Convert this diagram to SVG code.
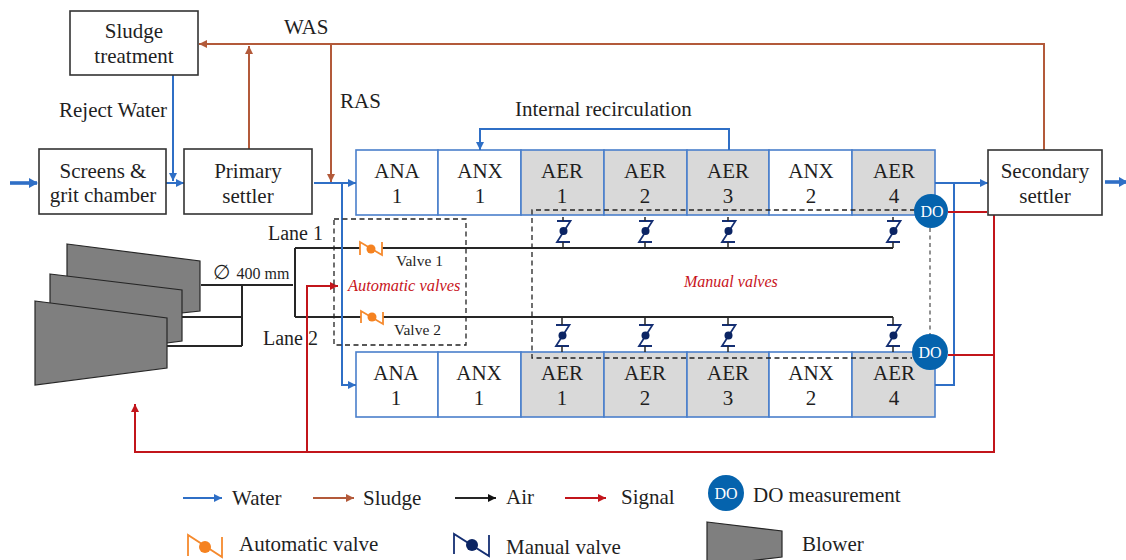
<svg xmlns="http://www.w3.org/2000/svg" width="1126" height="560" viewBox="0 0 1126 560">
<defs>
<style>
text{font-family:"Liberation Serif","Times New Roman",serif;fill:#1f1f1f;font-size:21px}
.c{text-anchor:middle}
.box{fill:#fff;stroke:#333;stroke-width:1.6}
.tw{fill:#fff;stroke:#4a7fcb;stroke-width:1.6}
.tg{fill:#d9d9d9;stroke:#4a7fcb;stroke-width:1.6}
.w,.s,.a,.r,.wt{fill:none}
.w{stroke:#2f6fc6;stroke-width:2}
.wt{stroke:#2f6fc6;stroke-width:3.6}
.s{stroke:#b35a3a;stroke-width:2}
.a{stroke:#262626;stroke-width:2}
.r{stroke:#c2151b;stroke-width:2}
.d{fill:none;stroke:#222;stroke-width:1.3;stroke-dasharray:5 3.5}
.bl{fill:#7f7f7f;stroke:#262626;stroke-width:1.2}
.do{fill:#0563ad}
.dot{fill:#fff;font-size:16px;text-anchor:middle}
.av{fill:none;stroke:#f58a2e;stroke-width:1.8}
.mv{fill:none;stroke:#152f73;stroke-width:1.8}
.ac{fill:#f58220}
.mc{fill:#0b2463}
.it{font-style:italic;fill:#c8141c;font-size:16.400px}
</style>
<marker id="mw" markerWidth="9" markerHeight="8" refX="8" refY="4" orient="auto" markerUnits="userSpaceOnUse"><path d="M0 0L8 4L0 8z" fill="#2f6fc6"/></marker>
<marker id="mwt" markerWidth="10" markerHeight="11" refX="8" refY="5" orient="auto" markerUnits="userSpaceOnUse"><path d="M0 0L9 5L0 10z" fill="#2f6fc6"/></marker>
<marker id="ms" markerWidth="9" markerHeight="8" refX="8" refY="4" orient="auto" markerUnits="userSpaceOnUse"><path d="M0 0L8 4L0 8z" fill="#b35a3a"/></marker>
<marker id="ma" markerWidth="9" markerHeight="8" refX="8" refY="4" orient="auto" markerUnits="userSpaceOnUse"><path d="M0 0L8 4L0 8z" fill="#111"/></marker>
<marker id="mr" markerWidth="9" markerHeight="8" refX="8" refY="4" orient="auto" markerUnits="userSpaceOnUse"><path d="M0 0L8 4L0 8z" fill="#c2151b"/></marker>
<g id="mvt"><path class="mv" d="M-6 4H7.500L-6 25H7"/><circle class="mc" cx="0.500" cy="14" r="4"/><path class="a" style="stroke-width:1.5" d="M0 0V4M0 25V31"/></g>
<g id="mvb"><path class="mv" d="M-6 8H7.500L-6 29H7"/><circle class="mc" cx="0.500" cy="18.500" r="4"/><path class="a" style="stroke-width:1.5" d="M0 0V8M0 29V35"/></g>
</defs>

<g id="blowers">
<polygon class="bl" points="67,244 200,261 200,311 67,325"/>
<polygon class="bl" points="50,274 182,290 182,341 50,358"/>
<polygon class="bl" points="35,301 167,318 167,368 35,385"/>
</g>

<g id="tanks-top">
<rect class="tw" x="356" y="150" width="82" height="65"/><rect class="tw" x="438" y="150" width="83" height="65"/>
<rect class="tg" x="521" y="150" width="83" height="65"/><rect class="tg" x="604" y="150" width="83" height="65"/><rect class="tg" x="687" y="150" width="82" height="65"/>
<rect class="tw" x="769" y="150" width="83" height="65"/><rect class="tg" x="852" y="150" width="83" height="65"/>
<text class="c" x="397" y="178">ANA</text><text class="c" x="397" y="203">1</text>
<text class="c" x="480" y="178">ANX</text><text class="c" x="480" y="203">1</text>
<text class="c" x="562" y="178">AER</text><text class="c" x="562" y="203">1</text>
<text class="c" x="645" y="178">AER</text><text class="c" x="645" y="203">2</text>
<text class="c" x="728" y="178">AER</text><text class="c" x="728" y="203">3</text>
<text class="c" x="811" y="178">ANX</text><text class="c" x="811" y="203">2</text>
<text class="c" x="894" y="178">AER</text><text class="c" x="894" y="203">4</text>
</g>
<g id="tanks-bottom">
<rect class="tw" x="356" y="352" width="82" height="65"/><rect class="tw" x="438" y="352" width="83" height="65"/>
<rect class="tg" x="521" y="352" width="83" height="65"/><rect class="tg" x="604" y="352" width="83" height="65"/><rect class="tg" x="687" y="352" width="82" height="65"/>
<rect class="tw" x="769" y="352" width="83" height="65"/><rect class="tg" x="852" y="352" width="83" height="65"/>
<text class="c" x="396" y="380">ANA</text><text class="c" x="396" y="405">1</text>
<text class="c" x="479" y="380">ANX</text><text class="c" x="479" y="405">1</text>
<text class="c" x="562" y="380">AER</text><text class="c" x="562" y="405">1</text>
<text class="c" x="645" y="380">AER</text><text class="c" x="645" y="405">2</text>
<text class="c" x="728" y="380">AER</text><text class="c" x="728" y="405">3</text>
<text class="c" x="811" y="380">ANX</text><text class="c" x="811" y="405">2</text>
<text class="c" x="894" y="380">AER</text><text class="c" x="894" y="405">4</text>
</g>

<g id="connectors">
<path class="a" d="M201 285H293M295 248V317M242 285V346M182 317H242M167 346H242"/>
<path class="a" d="M295 248H360M382 248H893M295 317H361M383 317H893"/>
<path class="w" d="M173 75V181" marker-end="url(#mw)"/>
<path class="w" d="M166 183H184" marker-end="url(#mw)"/>
<path class="wt" d="M10 183H37" marker-end="url(#mwt)"/>
<path class="wt" d="M1105 182H1127" marker-end="url(#mwt)"/>
<path class="w" d="M314 183H356" marker-end="url(#mw)"/>
<path class="w" d="M342 183V385H356" marker-end="url(#mw)"/>
<path class="w" d="M935 183H988" marker-end="url(#mw)"/>
<path class="w" d="M954 183V385H935"/>
<path class="w" d="M729 150V129H480V150" marker-end="url(#mw)"/>
<path class="s" d="M1044 150V44H199" marker-end="url(#ms)"/>
<path class="s" d="M331 44V182" marker-end="url(#ms)"/>
<path class="s" d="M249 149V46" marker-end="url(#ms)"/>
<path class="r" d="M948 212H987M994 215V452H135V404" marker-end="url(#mr)"/>
<path class="r" d="M948 355H995"/>
<path class="r" d="M307 452V286H338" marker-end="url(#mr)"/>
</g>

<g id="dashed-boxes">
<rect class="d" x="334" y="219" width="132" height="126"/>
<path class="d" d="M915 210H532V358H912"/>
<path class="d" d="M930 228V335" style="stroke:#777;stroke-width:1.6;stroke-dasharray:4 3.500"/>
</g>

<g id="auto-valve-1"><path class="av" d="M360 255V242L382 255V242"/><circle class="ac" cx="371" cy="249" r="4.500"/></g>
<g id="auto-valve-2"><path class="av" d="M361 323V311L383 324V312"/><circle class="ac" cx="372" cy="317" r="4.500"/></g>

<g id="manual-valves">
<use href="#mvt" x="563" y="217"/><use href="#mvt" x="645" y="217"/><use href="#mvt" x="728" y="217"/><use href="#mvt" x="893" y="217"/>
<use href="#mvb" x="562" y="317"/><use href="#mvb" x="645" y="317"/><use href="#mvb" x="728" y="317"/><use href="#mvb" x="893" y="317"/>
</g>

<g id="sludge-treatment"><rect class="box" x="70" y="11" width="128" height="64"/><text class="c" x="134" y="38">Sludge</text><text class="c" x="134" y="63">treatment</text></g>
<g id="screens"><rect class="box" x="39" y="149" width="127" height="65"/><text class="c" x="103" y="178">Screens &amp;</text><text class="c" x="103" y="202">grit chamber</text></g>
<g id="primary-settler"><rect class="box" x="184" y="149" width="128" height="65"/><text class="c" x="248" y="178">Primary</text><text class="c" x="248" y="203">settler</text></g>
<g id="secondary-settler"><rect class="box" x="988" y="150" width="114" height="65"/><text class="c" x="1045" y="178">Secondary</text><text class="c" x="1045" y="203">settler</text></g>

<g id="do-top"><circle class="do" cx="931" cy="211" r="17"/><text class="dot" x="932" y="217">DO</text></g>
<g id="do-bottom"><circle class="do" cx="930" cy="352" r="18"/><text class="dot" x="930" y="358">DO</text></g>

<g id="labels">
<text x="59" y="117">Reject Water</text>
<text x="284" y="34">WAS</text>
<text x="340" y="108">RAS</text>
<text x="515" y="116">Internal recirculation</text>
<text x="268" y="240" style="font-size:20px">Lane 1</text>
<text x="263" y="345" style="font-size:20px">Lane 2</text>
<text x="213" y="279" style="font-family:'DejaVu Sans',sans-serif;font-size:20px">∅</text>
<text x="236.500" y="279" style="font-size:16px">400 mm</text>
<text x="396" y="266" style="font-size:15.500px">Valve 1</text>
<text x="394" y="335" style="font-size:15.500px">Valve 2</text>
<text class="it" x="348" y="291">Automatic valves</text>
<text class="it" x="684" y="287" style="font-size:16px">Manual valves</text>
</g>

<g id="legend">
<path class="w" d="M183 498H222" marker-end="url(#mw)"/><text x="232" y="505">Water</text>
<path class="s" d="M313 498H354" marker-end="url(#ms)"/><text x="363" y="505">Sludge</text>
<path class="a" d="M455 498H496" marker-end="url(#ma)"/><text x="506" y="504">Air</text>
<path class="r" d="M565 498H606" marker-end="url(#mr)"/><text x="621" y="504">Signal</text>
<circle class="do" cx="726" cy="493" r="18"/><text class="dot" x="726" y="499">DO</text>
<text x="753" y="502">DO measurement</text>
<path class="av" d="M188 556V535L222 557V537"/><circle class="ac" cx="205" cy="547" r="6"/><text x="239" y="551">Automatic valve</text>
<path class="mv" d="M454 554V534L489 556V535"/><circle class="mc" cx="472" cy="545" r="6"/><text x="506" y="554">Manual valve</text>
<polygon class="bl" points="707,522 782,531 782,557 707,566"/><text x="802" y="551">Blower</text>
</g>
</svg>
